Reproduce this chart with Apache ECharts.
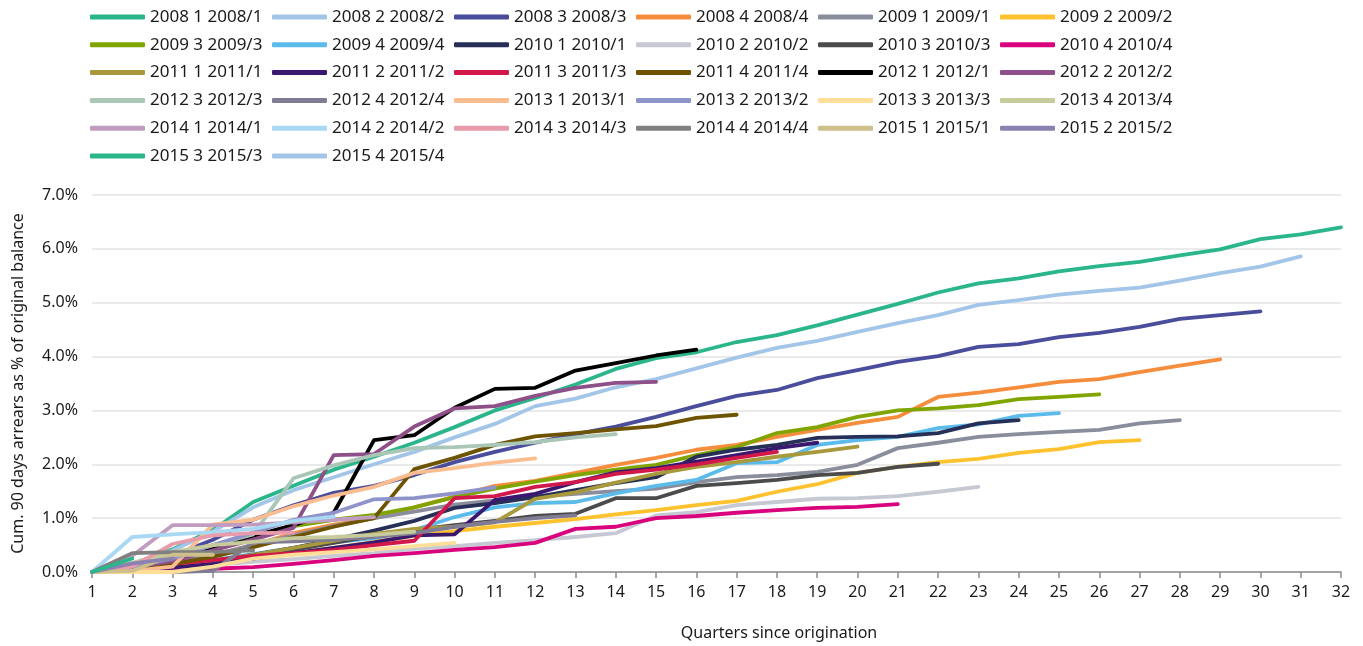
<!DOCTYPE html>
<html>
<head>
<meta charset="utf-8">
<script src="https://cdn.jsdelivr.net/npm/echarts@6/dist/echarts.min.js"></script>
<style>html,body{margin:0;padding:0;background:#fff}#chart{width:1363px;height:646px}</style>
</head>
<body>
<div id="chart"></div>
<script>
const quarters = ['1','2','3','4','5','6','7','8','9','10','11','12','13','14','15','16','17','18','19','20','21','22','23','24','25','26','27','28','29','30','31','32'];
const cohorts = ['2008 1 2008/1','2008 2 2008/2','2008 3 2008/3','2008 4 2008/4','2009 1 2009/1','2009 2 2009/2','2009 3 2009/3','2009 4 2009/4','2010 1 2010/1','2010 2 2010/2','2010 3 2010/3','2010 4 2010/4','2011 1 2011/1','2011 2 2011/2','2011 3 2011/3','2011 4 2011/4','2012 1 2012/1','2012 2 2012/2','2012 3 2012/3','2012 4 2012/4','2013 1 2013/1','2013 2 2013/2','2013 3 2013/3','2013 4 2013/4','2014 1 2014/1','2014 2 2014/2','2014 3 2014/3','2014 4 2014/4','2015 1 2015/1','2015 2 2015/2','2015 3 2015/3','2015 4 2015/4'];
const colors = ['#2BB58A','#A3C6E8','#4A4C9C','#F68D3D','#8A8D9B','#FDC22E','#80A500','#5BBBEB','#262F57','#C6C9D3','#4B4B4B','#D9037E','#A89A3C','#3A1870','#D2174A','#6E5300','#000000','#8F4F88','#A9C6B6','#7F7C93','#F9BD8F','#8E93C9','#FFDE9A','#C7CB9B','#C19CC1','#A9D8F2','#E89BAA','#808080','#CEC08B','#8C82B1','#2BB58A','#A3C6E8'];

const s2008_1 = [0,0.15,0.42,0.78,1.3,1.6,1.9,2.14,2.4,2.69,3.0,3.23,3.48,3.77,3.97,4.08,4.27,4.4,4.58,4.78,4.98,5.19,5.36,5.45,5.58,5.68,5.76,5.88,5.99,6.18,6.27,6.4];
const s2008_2 = [0,0.13,0.4,0.75,1.2,1.52,1.76,2.0,2.23,2.5,2.75,3.08,3.22,3.43,3.58,3.78,3.98,4.16,4.29,4.46,4.62,4.77,4.96,5.05,5.15,5.22,5.28,5.41,5.55,5.67,5.86];
const s2008_3 = [0,0.1,0.3,0.6,0.97,1.24,1.47,1.6,1.8,2.04,2.23,2.4,2.56,2.7,2.88,3.08,3.27,3.38,3.6,3.75,3.9,4.01,4.18,4.23,4.36,4.44,4.55,4.7,4.77,4.84];
const s2008_4 = [0,0.07,0.17,0.32,0.5,0.72,0.88,1.0,1.2,1.4,1.6,1.69,1.84,1.99,2.12,2.27,2.36,2.51,2.64,2.77,2.88,3.25,3.33,3.43,3.53,3.58,3.71,3.83,3.95];
const s2009_1 = [0,0.07,0.17,0.32,0.5,0.68,0.85,1.0,1.12,1.25,1.33,1.4,1.45,1.5,1.55,1.67,1.76,1.8,1.86,1.99,2.3,2.4,2.51,2.56,2.6,2.64,2.76,2.82];
const s2009_2 = [0,0.04,0.09,0.17,0.26,0.35,0.45,0.56,0.67,0.76,0.84,0.91,0.98,1.07,1.15,1.24,1.32,1.49,1.63,1.84,1.95,2.04,2.1,2.21,2.28,2.41,2.45];
const s2009_3 = [0,0.09,0.22,0.41,0.63,0.85,0.97,1.06,1.2,1.39,1.55,1.68,1.8,1.9,1.99,2.17,2.32,2.58,2.69,2.88,3.0,3.04,3.1,3.21,3.25,3.3];
const s2009_4 = [0,0.05,0.12,0.22,0.33,0.45,0.55,0.63,0.78,1.02,1.2,1.28,1.3,1.46,1.6,1.71,2.02,2.04,2.36,2.45,2.51,2.67,2.74,2.9,2.95];
const s2010_1 = [0,0.04,0.1,0.2,0.32,0.45,0.6,0.77,0.95,1.19,1.28,1.39,1.52,1.65,1.76,2.14,2.27,2.36,2.49,2.51,2.52,2.58,2.76,2.82];
const s2010_2 = [0,0.04,0.07,0.13,0.19,0.24,0.3,0.35,0.43,0.48,0.54,0.59,0.65,0.72,1.05,1.11,1.24,1.3,1.36,1.37,1.41,1.49,1.58];
const s2010_3 = [0,0.06,0.11,0.19,0.3,0.41,0.54,0.67,0.78,0.87,0.95,1.04,1.08,1.37,1.37,1.6,1.65,1.71,1.8,1.84,1.95,2.01];
const s2010_4 = [0,0.0,0.02,0.06,0.09,0.15,0.22,0.3,0.35,0.41,0.46,0.54,0.8,0.84,1.0,1.04,1.1,1.15,1.19,1.21,1.26];
const s2011_1 = [0,0.04,0.11,0.2,0.32,0.45,0.58,0.71,0.8,0.84,0.92,1.36,1.48,1.66,1.82,1.95,2.04,2.14,2.23,2.33];
const s2011_2 = [0,0.03,0.08,0.15,0.25,0.35,0.45,0.55,0.68,0.7,1.34,1.45,1.67,1.85,1.93,2.05,2.17,2.3,2.4];
const s2011_3 = [0,0.07,0.15,0.22,0.3,0.35,0.41,0.5,0.58,1.37,1.41,1.58,1.67,1.82,1.9,2.0,2.12,2.23];
const s2011_4 = [0,0.06,0.15,0.28,0.46,0.65,0.84,1.0,1.91,2.12,2.36,2.52,2.58,2.65,2.71,2.86,2.92];
const s2012_1 = [0,0.13,0.26,0.45,0.67,0.87,1.1,2.45,2.54,3.05,3.4,3.42,3.74,3.88,4.02,4.13];
const s2012_2 = [0,0.08,0.2,0.4,0.6,0.82,2.17,2.19,2.7,3.04,3.08,3.27,3.42,3.51,3.53];
const s2012_3 = [0,0.11,0.3,0.5,0.7,1.74,1.98,2.17,2.3,2.32,2.36,2.41,2.5,2.56];
const s2012_4 = [0,0,0,0.02,0.55,0.57,0.6,0.65,0.72,0.84,0.93,1.0,1.05];
const s2013_1 = [0,0.02,0.1,0.88,0.97,1.22,1.42,1.58,1.84,1.93,2.03,2.11];
const s2013_2 = [0,0.1,0.25,0.5,0.73,0.97,1.1,1.35,1.37,1.46,1.57];
const s2013_3 = [0,0,0,0.1,0.25,0.32,0.37,0.42,0.48,0.54];
const s2013_4 = [0,0.17,0.37,0.5,0.56,0.63,0.65,0.69,0.75];
const s2014_1 = [0,0.3,0.87,0.87,0.88,0.92,0.97,1.02];
const s2014_2 = [0,0.65,0.7,0.74,0.8,0.95,1.03];
const s2014_3 = [0,0.1,0.52,0.68,0.72,0.73];
const s2014_4 = [0,0.35,0.37,0.37,0.4];
const s2015_1 = [0,0.02,0.32,0.32];
const s2015_2 = [0,0.16,0.25];
const s2015_3 = [0,0.25];
const s2015_4 = [0];

const seriesValues = [s2008_1,s2008_2,s2008_3,s2008_4,s2009_1,s2009_2,s2009_3,s2009_4,s2010_1,s2010_2,s2010_3,s2010_4,s2011_1,s2011_2,s2011_3,s2011_4,s2012_1,s2012_2,s2012_3,s2012_4,s2013_1,s2013_2,s2013_3,s2013_4,s2014_1,s2014_2,s2014_3,s2014_4,s2015_1,s2015_2,s2015_3,s2015_4];

const FONT = 'Noto Sans';
const TXT = '#1a1a1a';

const legends = [];
for (let c = 0; c < 6; c++) {
  const names = [];
  for (let i = c; i < cohorts.length; i += 6) names.push(cohorts[i]);
  legends.push({
    orient: 'vertical', left: 90 + 182 * c, top: 8, padding: 0,
    data: names, icon: 'roundRect', itemWidth: 55, itemHeight: 5, itemGap: 9.8,
    textStyle: { fontFamily: FONT, fontSize: 17, color: TXT, lineHeight: 18 },
    selectedMode: false
  });
}

const chart = echarts.init(document.getElementById('chart'), null, { renderer: 'canvas' });
chart.setOption({
  animation: false,
  backgroundColor: '#fff',
  legend: legends,
  grid: { left: 92, right: 22, top: 195, bottom: 74 },
  xAxis: {
    type: 'category', data: quarters, boundaryGap: false,
    name: 'Quarters since origination', nameLocation: 'middle', nameGap: 53,
    nameTextStyle: { fontFamily: FONT, fontSize: 16, color: TXT, padding: [0, 0, 0, 125] },
    axisLine: { lineStyle: { color: '#8c8c8c', width: 1.5 } },
    axisTick: { show: true, length: 6, interval: 0, lineStyle: { color: '#8c8c8c', width: 1.5 } },
    axisLabel: { interval: 0, fontFamily: FONT, fontSize: 16, color: TXT, margin: 12 },
    splitLine: { show: false }
  },
  yAxis: {
    type: 'value', min: 0, max: 7, interval: 1,
    name: 'Cum. 90 days arrears as % of original balance', nameLocation: 'middle', nameGap: 66,
    nameTextStyle: { fontFamily: FONT, fontSize: 16, color: TXT },
    axisLine: { show: false }, axisTick: { show: false },
    axisLabel: { fontFamily: FONT, fontSize: 16, color: TXT, margin: 14, formatter: v => v.toFixed(1) + '%' },
    splitLine: { lineStyle: { color: '#e3e3e3', width: 1.5 } }
  },
  series: cohorts.map((name, i) => ({
    name, type: 'line', data: seriesValues[i], color: colors[i],
    symbol: 'none', showSymbol: false,
    lineStyle: { width: 3.8, color: colors[i], cap: 'round', join: 'round' },
    emphasis: { disabled: true }
  }))
});
</script>
</body>
</html>
